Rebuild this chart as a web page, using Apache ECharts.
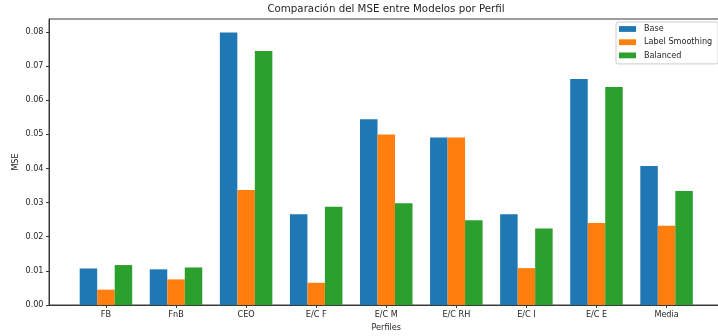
<!DOCTYPE html>
<html>
<head>
<meta charset="utf-8">
<script src="https://cdn.jsdelivr.net/npm/echarts@6/dist/echarts.min.js"></script>
<style>
  html, body { margin: 0; padding: 0; background: #fff; }
  #chart { width: 718px; height: 336px; }
</style>
</head>
<body>
<div id="chart"></div>
<script>
// Profiles on the x axis
const categories = ['FB', 'FnB', 'CEO', 'E/C F', 'E/C M', 'E/C RH', 'E/C I', 'E/C E', 'Media'];

// MSE per model
const baseMse = [0.0107, 0.01045, 0.0798, 0.0266, 0.0544, 0.0491, 0.0266, 0.0662, 0.0407];
const labelSmoothingMse = [0.0045, 0.0075, 0.0337, 0.0065, 0.04995, 0.0491, 0.0108, 0.0240, 0.0232];
const balancedMse = [0.0117, 0.0110, 0.0744, 0.0288, 0.0298, 0.0248, 0.0224, 0.0639, 0.0334];

// y tick labels
const yTicks = [0, 0.01, 0.02, 0.03, 0.04, 0.05, 0.06, 0.07, 0.08];

const seriesNames = ['Base', 'Label Smoothing', 'Balanced'];
const seriesData = [baseMse, labelSmoothingMse, balancedMse];
const colors = ['#1f77b4', '#ff7f0e', '#2ca02c'];

const xPositions = categories.map((_, i) => i);
const allValues = [].concat(baseMse, labelSmoothingMse, balancedMse);
const yMax = Math.max(...allValues) * 1.05;

const chart = echarts.init(document.getElementById('chart'), null, { renderer: 'canvas' });

const textColor = '#262626';
const lineColor = '#3a3a3a';
const fontFamily = 'DejaVu Sans';
const smallFont = 8.1;

chart.setOption({
  animation: false,
  backgroundColor: '#fff',
  title: {
    text: 'Comparación del MSE entre Modelos por Perfil',
    left: 386,
    textAlign: 'center',
    top: 4,
    padding: 0,
    textStyle: { fontFamily, fontSize: 10.25, fontWeight: 'normal', color: textColor }
  },
  legend: {
    orient: 'vertical',
    left: 616,
    top: 22,
    padding: [2, 6, 3.5, 3],
    itemGap: 3.2,
    itemWidth: 17,
    itemHeight: 5.8,
    icon: 'rect',
    backgroundColor: 'rgba(255,255,255,0.8)',
    borderColor: '#cccccc',
    borderWidth: 1,
    borderRadius: 2,
    textStyle: { fontFamily, fontSize: smallFont, color: textColor, lineHeight: 10, padding: [0, 0, 0, 3] },
    data: seriesNames
  },
  grid: {
    left: 49,
    right: -5.5,
    top: 19,
    bottom: 31,
    outerBoundsMode: 'none',
    containLabel: false,
    show: true,
    borderColor: lineColor,
    borderWidth: 1,
    backgroundColor: 'transparent'
  },
  xAxis: {
    type: 'value',
    min: -0.8125,
    max: 8.8125,
    name: 'Perfiles',
    nameLocation: 'middle',
    nameGap: 18.5,
    nameMoveOverlap: false,
    nameTextStyle: { fontFamily, fontSize: smallFont, color: textColor, verticalAlign: 'top' },
    splitLine: { show: false },
    axisLine: { show: true, onZero: false, lineStyle: { color: lineColor, width: 1 } },
    axisTick: { show: true, length: 3, customValues: xPositions, lineStyle: { color: lineColor, width: 1 } },
    axisLabel: {
      customValues: xPositions,
      formatter: v => categories[Math.round(v)] || '',
      fontFamily, fontSize: smallFont, color: textColor, margin: 5.5
    }
  },
  yAxis: {
    type: 'value',
    min: 0,
    max: yMax,
    name: 'MSE',
    nameLocation: 'middle',
    nameGap: 29,
    nameMoveOverlap: false,
    nameRotate: 90,
    nameTextStyle: { fontFamily, fontSize: smallFont, color: textColor },
    splitLine: { show: false },
    axisLine: { show: true, onZero: false, lineStyle: { color: lineColor, width: 1 } },
    axisTick: { show: true, length: 3, customValues: yTicks, lineStyle: { color: lineColor, width: 1 } },
    axisLabel: {
      customValues: yTicks,
      formatter: v => v.toFixed(2),
      fontFamily, fontSize: smallFont, color: textColor, margin: 5.5
    }
  },
  series: seriesNames.map((name, k) => ({
    name,
    type: 'bar',
    barWidth: 17.5,
    barGap: '0%',
    itemStyle: { color: colors[k] },
    data: seriesData[k].map((v, i) => [xPositions[i], v])
  }))
});
</script>
</body>
</html>
